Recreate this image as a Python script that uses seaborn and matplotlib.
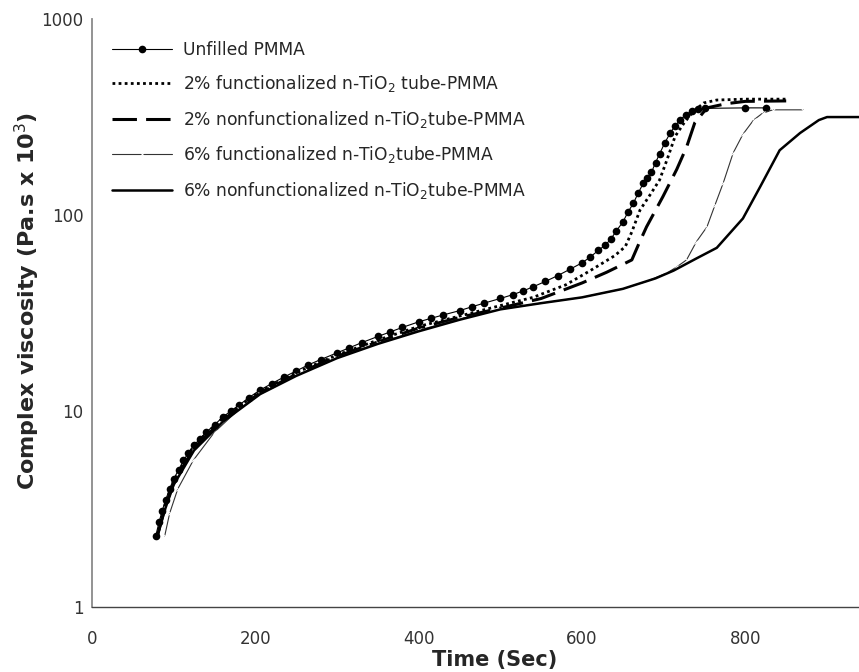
import matplotlib
matplotlib.use("Agg")
import matplotlib.pyplot as plt
import seaborn as sns
import pandas as pd

# Complex viscosity (Pa.s x 10^3) against cure time (s)
unfilled_t = [78, 82, 86, 90, 95, 100, 106, 112, 118, 125, 132, 140, 150, 160, 170, 180,
              192, 206, 220, 235, 250, 265, 280, 300, 315, 330, 350, 365, 380, 400, 415,
              430, 450, 465, 480, 500, 515, 528, 540, 555, 570, 585, 600, 610, 620, 628,
              635, 642, 650, 656, 663, 669, 675, 680, 685, 690, 695, 701, 708, 714, 720,
              727, 735, 742, 750, 800, 825]
unfilled_v = [2.3, 2.7, 3.1, 3.5, 4.0, 4.5, 5.0, 5.6, 6.1, 6.7, 7.2, 7.8, 8.5, 9.3, 10.0, 10.7,
              11.7, 12.8, 13.8, 14.9, 16.0, 17.2, 18.3, 19.8, 21.0, 22.3, 24, 25.3, 26.7, 28.5,
              29.7, 30.9, 32.5, 34, 35.5, 37.5, 39.2, 41, 43, 45.8, 49, 52.8, 57, 61, 66, 70,
              75, 83, 92, 103, 115, 130, 145, 155, 165, 185, 205, 232, 262, 285, 305,
              325, 340, 347, 350, 352, 352]

func2_t = [80, 90, 100, 125, 160, 206, 250, 300, 350, 400, 450, 500, 540, 580, 610,
           640, 653, 661, 671, 684, 695, 704, 714, 725, 735, 749, 765, 800, 850]
func2_v = [2.3, 3.4, 4.4, 6.7, 9.2, 12.6, 15.7, 19.3, 23, 27, 30.5, 34.5, 38, 44, 52,
           62, 69, 82, 106, 128, 151, 191, 252, 295, 333, 373, 386, 390, 390]

nonfunc2_t = [80, 90, 100, 125, 160, 206, 250, 300, 350, 400, 450, 500, 550, 600, 630,
              650, 661, 670, 679, 699, 716, 728, 738, 753, 777, 800, 850]
nonfunc2_v = [2.3, 3.3, 4.3, 6.5, 9.0, 12.4, 15.4, 19, 22.5, 26.5, 30, 33.5, 37.5, 45, 51,
              56, 59, 72, 87, 124, 171, 222, 295, 352, 370, 380, 382]

func6_t = [89, 95, 105, 124, 150, 180, 206, 250, 300, 350, 400, 450, 500, 550, 600,
           650, 680, 704, 715, 728, 740, 753, 763, 773, 785, 797, 810, 822, 834, 871]
func6_v = [2.3, 3.0, 4.0, 5.6, 7.8, 10.2, 12.2, 15.2, 18.7, 22.2, 25.8, 29.5, 33, 35.5, 38,
           42, 46, 50.6, 54, 59, 73, 87, 113, 146, 207, 258, 305, 333, 344, 344]

nonfunc6_t = [80, 90, 100, 125, 160, 206, 250, 300, 350, 400, 450, 500, 550, 600, 650,
              690, 712, 740, 765, 797, 818, 842, 867, 890, 900, 940]
nonfunc6_v = [2.3, 3.2, 4.2, 6.3, 8.8, 12.2, 15.1, 18.6, 22, 25.5, 29.2, 33, 35.5, 38, 42,
              47.5, 52, 60, 68, 96, 139, 214, 262, 305, 316, 316]

labels = [
    "Unfilled PMMA",
    "2% functionalized n-TiO$_2$ tube-PMMA",
    "2% nonfunctionalized n-TiO$_2$tube-PMMA",
    "6% functionalized n-TiO$_2$tube-PMMA",
    "6% nonfunctionalized n-TiO$_2$tube-PMMA",
]

x_ticks = [0, 200, 400, 600, 800]
y_ticks = [1, 10, 100, 1000]

sns.set_style("white")
plt.rcParams["font.family"] = ["DejaVu Sans"]
plt.rcParams["mathtext.fontset"] = "dejavusans"

fig = plt.figure(figsize=(8.59, 6.72), dpi=100)
ax = fig.add_axes([92 / 859, 65 / 672, 816.7 / 859, 588 / 672])

series = [
    (unfilled_t, unfilled_v, dict(color="black", linewidth=0.8, marker="o", markersize=5.5,
                                  markeredgewidth=0)),
    (func2_t, func2_v, dict(color="black", linewidth=2.0, linestyle=(0, (1, 1.2)))),
    (nonfunc2_t, nonfunc2_v, dict(color="black", linewidth=2.2, linestyle=(0, (8, 3)))),
    (func6_t, func6_v, dict(color="#333333", linewidth=0.8, marker="x", markersize=3,
                            markeredgewidth=0.7)),
    (nonfunc6_t, nonfunc6_v, dict(color="black", linewidth=1.8)),
]

for (t, v, style), lab in zip(series, labels):
    df = pd.DataFrame({"time": t, "viscosity": v})
    sns.lineplot(data=df, x="time", y="viscosity", ax=ax, label=lab,
                 estimator=None, sort=False, **style)

ax.set_yscale("log")
ax.set_ylim(1, 1000)
ax.set_xlim(0, 1000)
ax.set_yticks(y_ticks)
ax.set_yticklabels([str(v) for v in y_ticks])
ax.set_xticks(x_ticks)
ax.set_xticklabels([str(v) for v in x_ticks])
ax.set_xticks([100, 300, 500, 700, 900], minor=True)
ax.yaxis.set_minor_locator(matplotlib.ticker.NullLocator())

for s in ["top", "right"]:
    ax.spines[s].set_visible(False)
ax.spines["left"].set_color("#8a8a8a")
ax.spines["bottom"].set_color("#444444")
ax.spines["left"].set_linewidth(1.3)
ax.spines["bottom"].set_linewidth(1.0)

ax.tick_params(axis="both", which="both", direction="out", length=4, width=0.8,
               color="#777777", labelsize=12, labelcolor="#333333")
ax.tick_params(axis="x", pad=12.5)
ax.tick_params(axis="y", pad=2)

ax.set_xlabel("Time (Sec)", fontsize=15, fontweight="bold")
ax.xaxis.set_label_coords(0.4935, -0.073)
ax.set_ylabel("Complex viscosity (Pa.s x 10$^3$)", fontsize=16, fontweight="bold")
ax.yaxis.set_label_coords(-0.061, 0.52)

leg = ax.legend(loc="upper left", bbox_to_anchor=(0.0245, 0.963), frameon=False,
                fontsize=12.3, handlelength=3.5, handletextpad=0.65, labelspacing=0.85,
                borderaxespad=0, borderpad=0)

fig.savefig("out.png", dpi=100)
